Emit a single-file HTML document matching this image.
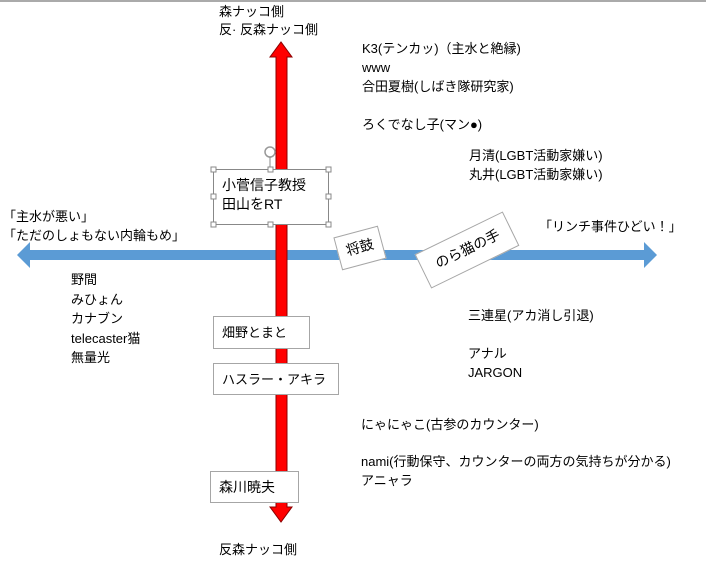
<!DOCTYPE html>
<html><head><meta charset="utf-8"><style>
body{margin:0;width:706px;height:565px;background:#fff;position:relative;overflow:hidden;font-family:"Liberation Sans","Noto Sans CJK JP",sans-serif;font-size:13px;color:#000}
.t{position:absolute;line-height:18px;white-space:nowrap}
.b{position:absolute;background:#fff;border:1px solid #a6a6a6;box-sizing:border-box;padding:6px 8px;line-height:19px;white-space:nowrap}
</style></head><body>
<div style="position:absolute;left:0;top:0;width:706px;height:2px;background:#aaa"></div>
<svg width="706" height="565" style="position:absolute;left:0;top:0">
<polygon points="30,250 652,250 652,260 30,260 30,268 17,255 30,242" fill="#5b9bd5"/>
<polygon points="644,242 657,255 644,268" fill="#5b9bd5"/>
<polygon points="276,57 276,507 270,507 281,522 292,507 287,507 287,57 292,57 281,42 270,57" fill="#ff0000" stroke="#8b0000" stroke-width="1"/>
</svg>
<div class="t" style="left:219px;top:3px">森ナッコ側<br>反· 反森ナッコ側</div>
<div class="t" style="left:362px;top:39px;line-height:19px">K3(テンカッ)（主水と絶縁)<br>www<br>合田夏樹(しばき隊研究家)<br><br>ろくでなし子(マン●)</div>
<div class="t" style="left:469px;top:146px;line-height:19px">月清(LGBT活動家嫌い)<br>丸井(LGBT活動家嫌い)</div>
<div class="t" style="left:3px;top:207px;line-height:19px">「主水が悪い」<br>「ただのしょもない内輪もめ」</div>
<div class="t" style="left:539px;top:218px">「リンチ事件ひどい！」</div>
<div class="t" style="left:71px;top:270px;line-height:19.5px">野間<br>みひょん<br>カナブン<br>telecaster猫<br>無量光</div>
<div class="t" style="left:468px;top:307px">三連星(アカ消し引退)</div>
<div class="t" style="left:468px;top:344px;line-height:19px">アナル<br>JARGON</div>
<div class="t" style="left:361px;top:416px">にゃにゃこ(古参のカウンター)</div>
<div class="t" style="left:361px;top:452px;line-height:19px">nami(行動保守、カウンターの両方の気持ちが分かる)<br>アニャラ</div>
<div class="t" style="left:219px;top:541px">反森ナッコ側</div>
<div class="b" style="left:213px;top:169px;width:116px;height:56px;border-color:#888;font-size:14px">小菅信子教授<br>田山をRT</div>
<svg width="706" height="565" style="position:absolute;left:0;top:0">
<circle cx="270" cy="152" r="5" fill="none" stroke="#999" stroke-width="1.5"/>
<line x1="270" y1="157" x2="270" y2="169" stroke="#888"/>
<g fill="#fff" stroke="#888">
<rect x="211" y="167" width="5" height="5"/><rect x="268" y="167" width="5" height="5"/><rect x="326" y="167" width="5" height="5"/>
<rect x="211" y="194" width="5" height="5"/><rect x="326" y="194" width="5" height="5"/>
<rect x="211" y="222" width="5" height="5"/><rect x="268" y="222" width="5" height="5"/><rect x="326" y="222" width="5" height="5"/>
</g></svg>
<div class="b" style="left:213px;top:316px;width:97px;height:33px">畑野とまと</div>
<div class="b" style="left:213px;top:363px;width:126px;height:32px">ハスラー・アキラ</div>
<div class="b" style="left:210px;top:471px;width:89px;height:32px;font-size:14px">森川暁夫</div>
<div class="b" style="left:337px;top:231px;width:46px;height:34px;padding:6px 8px;font-size:14px;transform:rotate(-15deg)">将鼓</div>
<div class="b" style="left:418px;top:231px;width:98px;height:38px;padding:8px 14px;font-size:14px;transform:rotate(-26deg)">のら猫の手</div>
</body></html>
